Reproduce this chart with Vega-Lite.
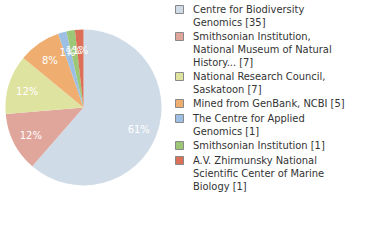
{
  "$schema": "https://vega.github.io/schema/vega-lite/v6.json",
  "width": 167,
  "height": 215,
  "padding": 0,
  "autosize": {"type": "pad"},
  "background": "white",
  "view": {"stroke": null},
  "data": {
    "values": [
      {"k": 1, "name": "Centre for Biodiversity|Genomics [35]", "n": 35, "pct": "61%"},
      {"k": 2, "name": "Smithsonian Institution,|National Museum of Natural|History... [7]", "n": 7, "pct": "12%"},
      {"k": 3, "name": "National Research Council,|Saskatoon [7]", "n": 7, "pct": "12%"},
      {"k": 4, "name": "Mined from GenBank, NCBI [5]", "n": 5, "pct": "8%"},
      {"k": 5, "name": "The Centre for Applied|Genomics [1]", "n": 1, "pct": "1%"},
      {"k": 6, "name": "Smithsonian Institution [1]", "n": 1, "pct": "1%"},
      {"k": 7, "name": "A.V. Zhirmunsky National|Scientific Center of Marine|Biology [1]", "n": 1, "pct": "1%"}
    ]
  },
  "encoding": {
    "theta": {"field": "n", "type": "quantitative", "stack": true},
    "order": {"field": "k", "type": "quantitative"}
  },
  "layer": [
    {
      "mark": {"type": "arc", "outerRadius": 78},
      "encoding": {
        "color": {
          "field": "name",
          "type": "nominal",
          "sort": null,
          "scale": {
            "domain": [
              "Centre for Biodiversity|Genomics [35]",
              "Smithsonian Institution,|National Museum of Natural|History... [7]",
              "National Research Council,|Saskatoon [7]",
              "Mined from GenBank, NCBI [5]",
              "The Centre for Applied|Genomics [1]",
              "Smithsonian Institution [1]",
              "A.V. Zhirmunsky National|Scientific Center of Marine|Biology [1]"
            ],
            "range": ["#cfdbe7", "#e0a69c", "#dfe3a0", "#f0ad70", "#9dbfe3", "#9cc777", "#dc6f57"]
          },
          "legend": {
            "orient": "none",
            "legendX": 174,
            "legendY": 4,
            "title": null,
            "padding": 0,
            "labelExpr": "split(datum.label, '|')",
            "labelFont": "DejaVu Sans Condensed",
            "labelFontSize": 11,
            "labelColor": "#333333",
            "labelOffset": 8,
            "labelLimit": 200,
            "symbolType": "square",
            "symbolSize": 64,
            "symbolStrokeColor": "#888888",
            "symbolStrokeWidth": 1,
            "symbolOpacity": 1,
            "rowPadding": 2
          }
        }
      }
    },
    {
      "mark": {"type": "text", "radius": 59, "dy": 2, "fill": "white", "font": "DejaVu Sans", "fontSize": 10},
      "encoding": {"text": {"field": "pct"}}
    }
  ]
}
